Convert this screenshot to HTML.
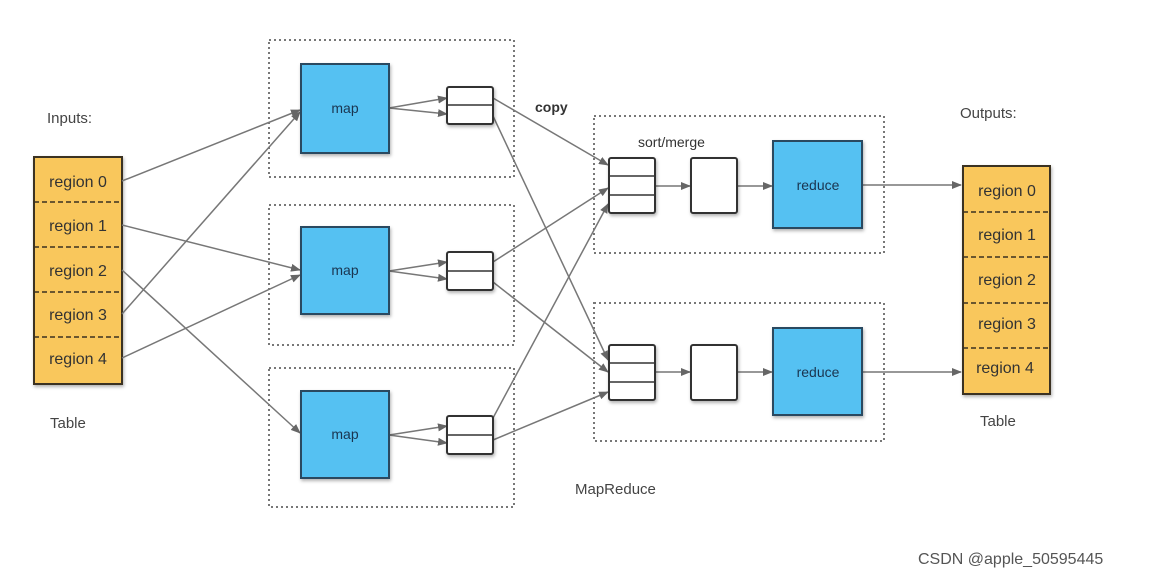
<!DOCTYPE html>
<html><head><meta charset="utf-8"><style>
html,body{margin:0;padding:0;background:#fff;}
svg{display:block;}
text{font-family:"Liberation Sans",sans-serif;}
</style></head><body>
<svg width="1161" height="579" viewBox="0 0 1161 579" xmlns="http://www.w3.org/2000/svg">
<defs>
<marker id="a" markerWidth="10" markerHeight="8" refX="9" refY="4" orient="auto" markerUnits="userSpaceOnUse">
<path d="M0,0 L10,4 L0,8 z" fill="#666"/></marker>
<filter id="sh" x="-10%" y="-10%" width="130%" height="130%"><feDropShadow dx="1" dy="2" stdDeviation="1.5" flood-color="#000" flood-opacity="0.3"/></filter>
</defs>
<g fill="none" stroke="#777" stroke-width="2" stroke-dasharray="2,3">
<rect x="269" y="40" width="245" height="137"/>
<rect x="269" y="205" width="245" height="140"/>
<rect x="269" y="368" width="245" height="139"/>
<rect x="594" y="116" width="290" height="137"/>
<rect x="594" y="303" width="290" height="138"/>
</g>
<!-- input table -->
<g filter="url(#sh)"><rect x="34" y="157" width="88" height="227" fill="#f9c75c" stroke="#3a3020" stroke-width="2"/></g>
<g stroke="#3a3020" stroke-width="1.5" stroke-dasharray="5,3">
<line x1="34" y1="202" x2="122" y2="202"/><line x1="34" y1="247" x2="122" y2="247"/>
<line x1="34" y1="292" x2="122" y2="292"/><line x1="34" y1="337" x2="122" y2="337"/></g>
<g font-size="16" fill="#333" text-anchor="middle">
<text x="78" y="187">region 0</text><text x="78" y="231">region 1</text><text x="78" y="276">region 2</text><text x="78" y="320">region 3</text><text x="78" y="364">region 4</text></g>
<!-- output table -->
<g filter="url(#sh)"><rect x="963" y="166" width="87" height="228" fill="#f9c75c" stroke="#3a3020" stroke-width="2"/></g>
<g stroke="#3a3020" stroke-width="1.5" stroke-dasharray="5,3">
<line x1="963" y1="212" x2="1050" y2="212"/><line x1="963" y1="257" x2="1050" y2="257"/>
<line x1="963" y1="303" x2="1050" y2="303"/><line x1="963" y1="348" x2="1050" y2="348"/></g>
<g font-size="16" fill="#333" text-anchor="middle">
<text x="1007" y="196">region 0</text><text x="1007" y="240">region 1</text><text x="1007" y="285">region 2</text><text x="1007" y="329">region 3</text><text x="1005" y="373">region 4</text></g>
<!-- labels -->
<g font-size="15" fill="#444">
<text x="47" y="123">Inputs:</text><text x="50" y="428">Table</text>
<text x="960" y="118">Outputs:</text><text x="980" y="426">Table</text>
<text x="575" y="494">MapReduce</text>
<text x="535" y="112" font-weight="bold" font-size="14" fill="#333">copy</text>
<text x="638" y="147" font-size="14" fill="#333">sort/merge</text>
</g>
<text x="918" y="564" font-size="16" fill="#555">CSDN @apple_50595445</text>
<!-- connectors -->
<g stroke="#777" stroke-width="1.5" fill="none" marker-end="url(#a)">
<line x1="122" y1="181" x2="300" y2="110"/>
<line x1="122" y1="314" x2="300" y2="112"/>
<line x1="122" y1="225" x2="300" y2="270"/>
<line x1="122" y1="358" x2="300" y2="275"/>
<line x1="122" y1="270" x2="300" y2="433"/>
<line x1="389" y1="108" x2="447" y2="98"/><line x1="389" y1="108" x2="447" y2="114"/>
<line x1="389" y1="271" x2="447" y2="262"/><line x1="389" y1="271" x2="447" y2="279"/>
<line x1="389" y1="435" x2="447" y2="426"/><line x1="389" y1="435" x2="447" y2="443"/>
<line x1="493" y1="98" x2="608" y2="165"/>
<line x1="493" y1="116" x2="608" y2="360"/>
<line x1="493" y1="262" x2="608" y2="188"/>
<line x1="493" y1="282" x2="608" y2="372"/>
<line x1="493" y1="418" x2="608" y2="204"/>
<line x1="493" y1="440" x2="608" y2="392"/>
<line x1="655" y1="186" x2="690" y2="186"/><line x1="737" y1="186" x2="772" y2="186"/>
<line x1="655" y1="372" x2="690" y2="372"/><line x1="737" y1="372" x2="772" y2="372"/>
<line x1="862" y1="185" x2="961" y2="185"/><line x1="862" y1="372" x2="961" y2="372"/>
</g>
<!-- map boxes -->
<g filter="url(#sh)" fill="#55c1f2" stroke="#2a4a60" stroke-width="2">
<rect x="301" y="64" width="88" height="89"/><rect x="301" y="227" width="88" height="87"/><rect x="301" y="391" width="88" height="87"/>
<rect x="773" y="141" width="89" height="87"/><rect x="773" y="328" width="89" height="87"/>
</g>
<g font-size="14" fill="#1a3550" text-anchor="middle">
<text x="345" y="113">map</text><text x="345" y="275">map</text><text x="345" y="439">map</text>
<text x="818" y="190">reduce</text><text x="818" y="377">reduce</text></g>
<!-- buffers -->
<g filter="url(#sh)" fill="#fff" stroke="#333" stroke-width="2">
<rect x="447" y="87" width="46" height="37" rx="2"/><rect x="447" y="252" width="46" height="38" rx="2"/><rect x="447" y="416" width="46" height="38" rx="2"/>
<rect x="609" y="158" width="46" height="55" rx="2"/><rect x="609" y="345" width="46" height="55" rx="2"/>
<rect x="691" y="158" width="46" height="55" rx="2"/><rect x="691" y="345" width="46" height="55" rx="2"/>
</g>
<g stroke="#333" stroke-width="1.5">
<line x1="447" y1="105" x2="493" y2="105"/><line x1="447" y1="271" x2="493" y2="271"/><line x1="447" y1="435" x2="493" y2="435"/>
<line x1="609" y1="176" x2="655" y2="176"/><line x1="609" y1="195" x2="655" y2="195"/>
<line x1="609" y1="363" x2="655" y2="363"/><line x1="609" y1="382" x2="655" y2="382"/>
</g>
</svg>
</body></html>
